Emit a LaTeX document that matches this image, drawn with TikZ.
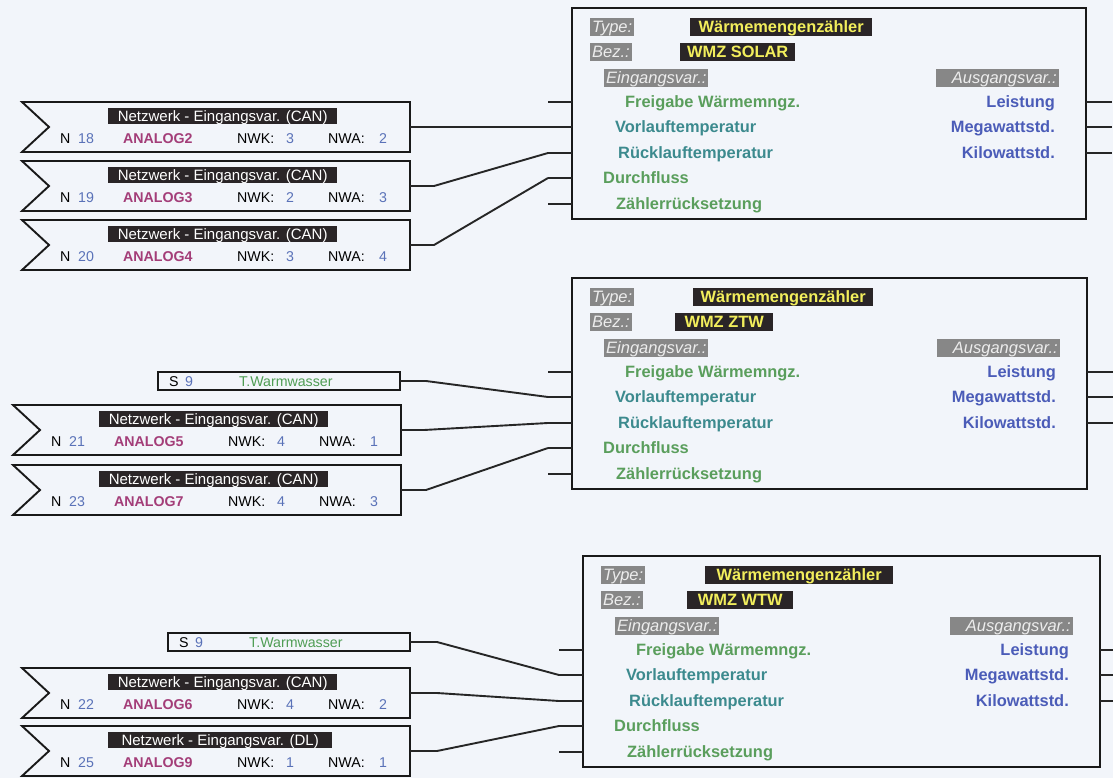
\documentclass[tikz,border=0pt]{standalone}
\usepackage{fontspec}
\setmainfont{Liberation Sans}
\definecolor{bg}{HTML}{F2F5FA}
\definecolor{lblk}{HTML}{2A2527}
\definecolor{numb}{HTML}{5A72B8}
\definecolor{anam}{HTML}{A33D78}
\definecolor{tgrn}{HTML}{4F9D54}
\definecolor{ingreen}{HTML}{5A9E5C}
\definecolor{inteal}{HTML}{3C8A8E}
\definecolor{outblue}{HTML}{4B5CB8}
\definecolor{gbg}{HTML}{878787}
\definecolor{glt}{HTML}{EDEDED}
\definecolor{ylw}{HTML}{F2EE5C}
\newcommand\fsz[1]{\fontsize{#1}{#1}\selectfont}
\tikzset{
  blk/.style={draw=black!90, line width=1.9pt, line join=miter},
  wire/.style={draw=black!85, line width=1.9pt},
  fbx/.style={draw=black!90, line width=1.9pt, inner sep=0pt, outer sep=0pt},
  sbox/.style={draw=black!90, line width=1.9pt, inner sep=0pt, outer sep=0pt, minimum width=242pt, minimum height=18pt},
  netlbl/.style={fill=lblk, text=white, font=\fsz{15}, inner sep=0pt, minimum height=16pt, text height=10.8pt, text depth=0pt, anchor=west},
  rowt/.style={font=\fsz{14.2}, inner sep=0pt, text height=10.2pt, text depth=0pt, anchor=west},
  ylbl/.style={fill=lblk, text=ylw, font=\bfseries\fsz{16.4}, inner sep=0pt, minimum height=18pt, text height=11.7pt, text depth=0pt, anchor=west},
  glbl/.style={fill=gbg, text=glt, font=\itshape\fsz{16.5}, inner xsep=2pt, inner ysep=0pt, minimum height=18pt, text height=11.8pt, text depth=0pt, anchor=west},
  intxt/.style={font=\bfseries\fsz{16.4}, inner sep=0pt, text height=11.7pt, text depth=0pt, anchor=west},
  outtxt/.style={font=\bfseries\fsz{16.4}, inner sep=0pt, text height=11.7pt, text depth=0pt, anchor=east, text=outblue},
}
% network input block: name, x0, ytop, bus, N, analog, NWK, NWA, label width
\newcommand\netblk[9]{%
  \draw[blk] (#2,#3) -- ++(388,0) -- ++(0,50) -- ++(-388,0) -- ++(27,-25) -- cycle;
  \coordinate (#1) at (#2+388,#3+25);
  \node[netlbl, minimum width=#9] (#1-lb) at (#2+86,#3+14) {Netzwerk - Eingangsvar. (#4)};
  \node[rowt] (#1-N) at (#2+38,#3+36) {N};
  \node[rowt, text=numb] (#1-nm) at (#2+56,#3+36) {#5};
  \node[rowt, text=anam, font=\bfseries\fsz{14.2}] (#1-an) at (#2+101,#3+36) {#6};
  \node[rowt] (#1-wk) at (#2+215,#3+36) {NWK:};
  \node[rowt, text=numb, anchor=center] (#1-wkv) at (#2+268,#3+36) {#7};
  \node[rowt] (#1-wa) at (#2+306,#3+36) {NWA:};
  \node[rowt, text=numb, anchor=center] (#1-wav) at (#2+361,#3+36) {#8};
}
% sensor block: name, x0, ytop
\newcommand\sblk[3]{%
  \node[sbox, anchor=north west] (#1) at (#2,#3) {};
  \node[rowt] (#1-s) at (#2+11,#3+9) {S};
  \node[rowt, text=numb] (#1-n) at (#2+27,#3+9) {9};
  \node[rowt, text=tgrn] (#1-t) at (#2+81,#3+9) {T.Warmwasser};
}
% function block: prefix, x0, y0, width, bez, bez off, bez w, type off, type w
\newcommand\wmz[9]{%
  \node[fbx, minimum width=#4, minimum height=211, anchor=north west] (#1) at (#2,#3) {};
  \foreach \k/\dy in {1/94,2/119,3/145,4/170,5/196} {
    \coordinate (#1-i\k) at (#2-24,#3+\dy);
    \draw[wire] (#1-i\k) -- (#1-i\k -| #1.west);
  }
  \foreach \k/\dy in {1/94,2/119,3/145} {
    \coordinate (#1-o\k) at (#2+#4+26,#3+\dy);
    \draw[wire] (#1-o\k -| #1.east) -- (#1-o\k);
  }
  \node[glbl] (#1-tl) at (#2+18,#3+19) {Type:};
  \node[ylbl, minimum width=#9] (#1-tv) at (#2+#8,#3+19) {Wärmemengenzähler};
  \node[glbl] (#1-bl) at (#2+18,#3+44) {Bez.:};
  \node[ylbl, minimum width=#7] (#1-bv) at (#2+#6,#3+44) {#5};
  \node[glbl] (#1-el) at (#2+32,#3+70) {Eingangsvar.:};
  \node[glbl, anchor=east] (#1-al) at (#2+#4-27,#3+70) {\hspace{14pt}Ausgangsvar.:};
  \node[intxt, text=ingreen] (#1-t1) at (#2+53,#3+94) {Freigabe Wärmemngz.};
  \node[intxt, text=inteal] (#1-t2) at (#2+43,#3+119) {Vorlauftemperatur};
  \node[intxt, text=inteal] (#1-t3) at (#2+46,#3+145) {Rücklauftemperatur};
  \node[intxt, text=ingreen] (#1-t4) at (#2+31,#3+170) {Durchfluss};
  \node[intxt, text=ingreen] (#1-t5) at (#2+44,#3+196) {Zählerrücksetzung};
  \node[outtxt] (#1-u1) at (#2+#4-31,#3+94) {Leistung};
  \node[outtxt] (#1-u2) at (#2+#4-31,#3+119) {Megawattstd.};
  \node[outtxt] (#1-u3) at (#2+#4-31,#3+145) {Kilowattstd.};
}
\begin{document}
\begin{tikzpicture}[x=1pt,y=-1pt]
\fill[bg] (0,0) rectangle (1113,778);
\useasboundingbox (0,0) rectangle (1113,778);

\netblk{n18}{22}{102}{CAN}{18}{ANALOG2}{3}{2}{229}
\netblk{n19}{22}{161}{CAN}{19}{ANALOG3}{2}{3}{229}
\netblk{n20}{22}{220}{CAN}{20}{ANALOG4}{3}{4}{229}
\netblk{n21}{13}{405}{CAN}{21}{ANALOG5}{4}{1}{229}
\netblk{n23}{13}{465}{CAN}{23}{ANALOG7}{4}{3}{229}
\netblk{n22}{22}{668}{CAN}{22}{ANALOG6}{4}{2}{229}
\netblk{n25}{22}{726}{DL}{25}{ANALOG9}{1}{1}{224}

\sblk{s9a}{158}{372}
\sblk{s9b}{168}{633}

\wmz{top}{572}{8}{514}{WMZ SOLAR}{108}{115}{118}{182}
\wmz{mid}{572}{278}{515}{WMZ ZTW}{103}{98}{121}{180}
\wmz{bot}{583}{556}{517}{WMZ WTW}{104}{106}{122}{188}

% connectors
\draw[wire] (n18) -- (top-i2);
\draw[wire] (n19) -- ++(24,0) -- (top-i3);
\draw[wire] (n20) -- ++(24,0) -- (top-i4);

\draw[wire] (s9a.east) -- ++(26,0) -- (mid-i2);
\draw[wire] (n21) -- ++(23,0) -- (mid-i3);
\draw[wire] (n23) -- ++(25,0) -- (mid-i4);

\draw[wire] (s9b.east) -- ++(27,0) -- (bot-i2);
\draw[wire] (n22) -- ++(27,0) -- (bot-i3);
\draw[wire] (n25) -- ++(27,0) -- (bot-i4);
\end{tikzpicture}
\end{document}
